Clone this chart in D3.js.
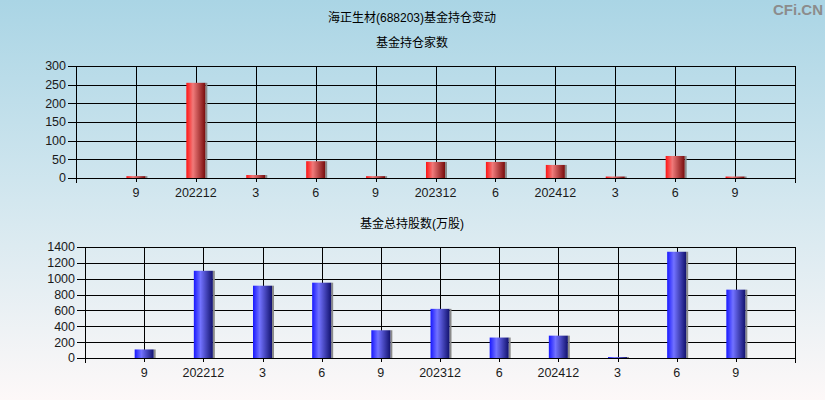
<!DOCTYPE html>
<html>
<head>
<meta charset="utf-8">
<script src="https://cdn.jsdelivr.net/npm/d3@7"></script>
<style>
  body { margin: 0; padding: 0; }
  svg { display: block; font-family: "Liberation Sans", Arial, "Noto Sans CJK SC", sans-serif; }
</style>
</head>
<body>
<div id="chart"></div>
<script>
'use strict';

// data
var categories = ['9', '202212', '3', '6', '9', '202312', '6', '202412', '3', '6', '9'];
var fundCount = [5, 255, 8, 45, 5, 43, 43, 35, 4, 59, 4];
var fundShares = [108, 1100, 912, 950, 350, 620, 258, 282, 12, 1340, 862];
var countTicks = [0, 50, 100, 150, 200, 250, 300];
var sharesTicks = [0, 200, 400, 600, 800, 1000, 1200, 1400];

var width = 825, height = 400;

var svg = d3.select('#chart').append('svg')
  .attr('width', width)
  .attr('height', height);

var defs = svg.append('defs');

var bg = defs.append('linearGradient').attr('id', 'bg')
  .attr('x1', 0).attr('y1', 0).attr('x2', 0).attr('y2', 1);
bg.append('stop').attr('offset', '0%').attr('stop-color', '#aad5e5');
bg.append('stop').attr('offset', '50%').attr('stop-color', '#d3e7ef');
bg.append('stop').attr('offset', '100%').attr('stop-color', '#fdf8f8');

function barGradient(id, c0, c1, c2) {
  var g = defs.append('linearGradient').attr('id', id)
    .attr('x1', 0).attr('y1', 0).attr('x2', 1).attr('y2', 0);
  g.append('stop').attr('offset', '0%').attr('stop-color', c0);
  g.append('stop').attr('offset', '35%').attr('stop-color', c1);
  g.append('stop').attr('offset', '100%').attr('stop-color', c2);
}
barGradient('red', '#ff1414', '#f07a7a', '#780c0c');
barGradient('blue', '#1818ff', '#7272ff', '#12126e');

svg.append('rect')
  .attr('width', width)
  .attr('height', height)
  .attr('fill', 'url(#bg)');

// titles
svg.append('text')
  .attr('x', 412).attr('y', 22)
  .attr('text-anchor', 'middle')
  .style('font-size', '12px')
  .text('海正生材(688203)基金持仓变动');

svg.append('text')
  .attr('x', 823).attr('y', 15)
  .attr('text-anchor', 'end')
  .style('font-size', '15px')
  .style('font-weight', 'bold')
  .attr('fill', '#8c8c8c')
  .text('CFi.CN');

function drawPanel(opts) {
  var g = svg.append('g');
  var x = d3.scaleLinear()
    .domain([0, categories.length + 1])
    .range([opts.left, opts.right]);
  var y = d3.scaleLinear()
    .domain([0, opts.max])
    .range([opts.bottom, opts.top]);

  g.append('text')
    .attr('x', 412).attr('y', opts.titleY)
    .attr('text-anchor', 'middle')
    .style('font-size', '12px')
    .text(opts.title);

  // horizontal grid
  g.selectAll('.hg').data(opts.ticks).enter().append('line')
    .attr('x1', opts.left - 8).attr('x2', opts.right)
    .attr('y1', function(d) { return Math.round(y(d)) + 0.5; })
    .attr('y2', function(d) { return Math.round(y(d)) + 0.5; })
    .attr('stroke', '#000');

  // vertical grid + small ticks
  g.selectAll('.vg').data(categories).enter().append('line')
    .attr('x1', function(d, i) { return Math.round(x(i + 1)) + 0.5; })
    .attr('x2', function(d, i) { return Math.round(x(i + 1)) + 0.5; })
    .attr('y1', opts.top).attr('y2', opts.bottom + 4)
    .attr('stroke', '#000');

  // frame
  [opts.left, opts.right].forEach(function(px) {
    g.append('line')
      .attr('x1', px + 0.5).attr('x2', px + 0.5)
      .attr('y1', opts.top).attr('y2', opts.bottom + 5)
      .attr('stroke', '#000');
  });

  // bars
  var bw = 19;
  var bars = g.selectAll('.bar').data(opts.values).enter().append('g');
  bars.append('rect')
    .attr('x', function(d, i) { return x(i + 1) - bw / 2 + bw; })
    .attr('width', 2)
    .attr('y', function(d) { return y(d); })
    .attr('height', function(d) { return opts.bottom - y(d); })
    .attr('fill', '#8a8a8a');
  bars.append('rect')
    .attr('x', function(d, i) { return x(i + 1) - bw / 2; })
    .attr('width', bw)
    .attr('y', function(d) { return y(d); })
    .attr('height', function(d) { return opts.bottom - y(d); })
    .attr('fill', 'url(#' + opts.fill + ')');

  // x axis line on top of bars
  g.append('line')
    .attr('x1', opts.left).attr('x2', opts.right)
    .attr('y1', opts.bottom + 0.5).attr('y2', opts.bottom + 0.5)
    .attr('stroke', '#000');

  // y labels
  g.selectAll('.yl').data(opts.ticks).enter().append('text')
    .attr('x', opts.left - 10)
    .attr('y', function(d) { return y(d); })
    .attr('dy', '0.35em')
    .attr('text-anchor', 'end')
    .style('font-size', '12.5px')
    .attr('fill', '#1a1a1a')
    .text(function(d) { return d; });

  // x labels
  g.selectAll('.xl').data(categories).enter().append('text')
    .attr('x', function(d, i) { return x(i + 1); })
    .attr('y', opts.bottom + 15)
    .attr('dy', '0.35em')
    .attr('text-anchor', 'middle')
    .style('font-size', '12.5px')
    .attr('fill', '#1a1a1a')
    .text(function(d) { return d; });
}

drawPanel({
  title: '基金持仓家数', titleY: 47,
  left: 76, right: 795, top: 66, bottom: 178,
  max: 300, ticks: countTicks, values: fundCount, fill: 'red'
});

drawPanel({
  title: '基金总持股数(万股)', titleY: 228,
  left: 85, right: 795, top: 247, bottom: 358,
  max: 1400, ticks: sharesTicks, values: fundShares, fill: 'blue'
});
</script>
</body>
</html>
